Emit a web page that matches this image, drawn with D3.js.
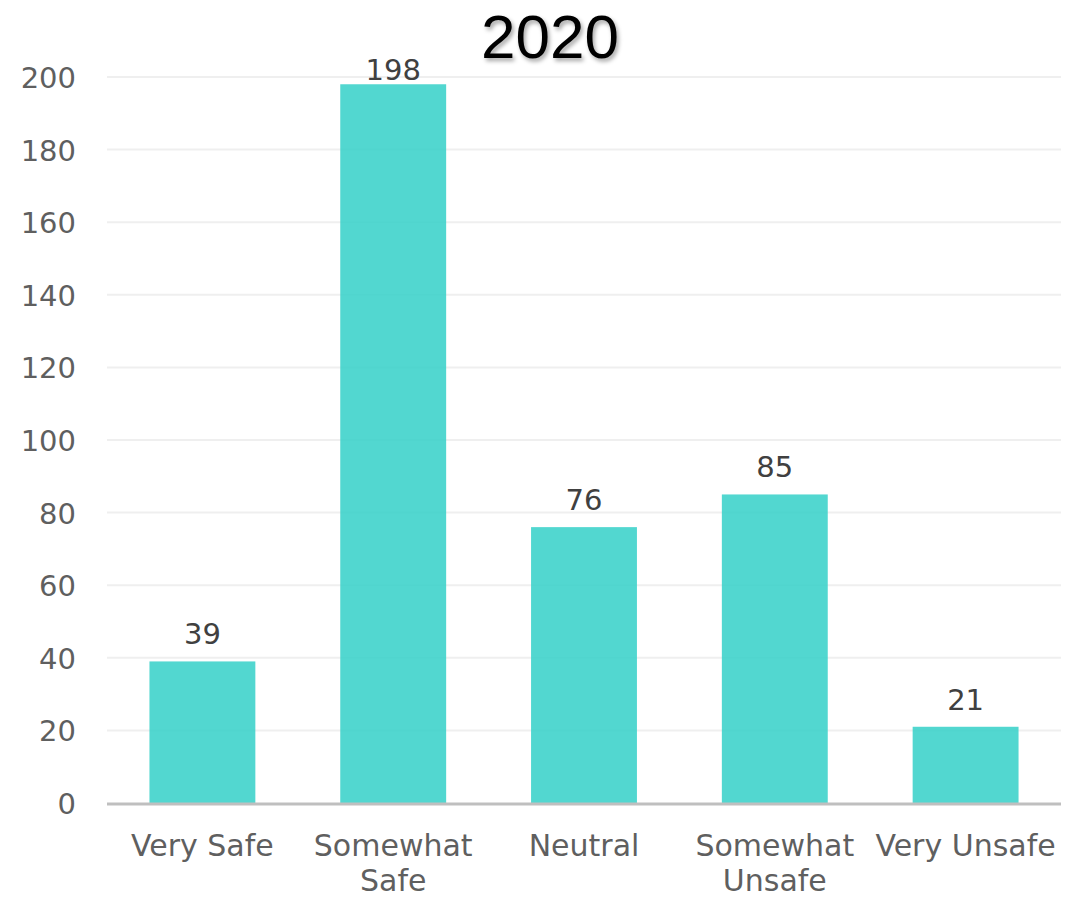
<!DOCTYPE html>
<html><head><meta charset="utf-8">
<script src="https://cdn.jsdelivr.net/npm/d3@7"></script>
<style>body{margin:0;background:#fff}svg{display:block}</style>
</head><body>
<svg id="c" width="1084" height="900"></svg>
<script>
const title = "2020";
const categories = ["Very Safe","Somewhat Safe","Neutral","Somewhat Unsafe","Very Unsafe"];
const categoryLines = [["Very Safe"],["Somewhat","Safe"],["Neutral"],["Somewhat","Unsafe"],["Very Unsafe"]];
const values = [39,198,76,85,21];
const yTicks = [0,20,40,60,80,100,120,140,160,180,200];

const svg = d3.select("#c");
const m = {left:107, right:1061, top:77, bottom:803};
const x = d3.scaleBand().domain(categories).range([m.left, m.right]).paddingInner(0.445).paddingOuter(0.2225);
const y = d3.scaleLinear().domain([0,200]).range([m.bottom, m.top]);
const font = "'DejaVu Sans', sans-serif";

const defs = svg.append("defs");
const f = defs.append("filter").attr("id","sh").attr("x","-20%").attr("y","-20%").attr("width","140%").attr("height","140%");
f.append("feDropShadow").attr("dx",2).attr("dy",3).attr("stdDeviation",2).attr("flood-color","#000").attr("flood-opacity",0.35);

// gridlines
svg.append("g").selectAll("line").data(yTicks.filter(d=>d>0)).join("line")
  .attr("x1",m.left).attr("x2",m.right).attr("y1",d=>y(d)).attr("y2",d=>y(d))
  .attr("stroke","#efefef").attr("stroke-width",2);

// y axis labels
const yAxis = d3.axisLeft(y).tickValues(yTicks).tickSize(0).tickPadding(0);
const yg = svg.append("g").attr("transform",`translate(76,0)`).call(yAxis);
yg.select(".domain").remove();
yg.selectAll("text").attr("font-family",font).attr("font-size",29).attr("fill","#5f5f5f").attr("dy","0.36em");

// bars
svg.append("g").selectAll("rect").data(values).join("rect")
  .attr("x",(d,i)=>x(categories[i])).attr("width",x.bandwidth())
  .attr("y",d=>y(d)).attr("height",d=>y(0)-y(d))
  .attr("fill","#3ad2ca").attr("fill-opacity",0.88);

// baseline
svg.append("line").attr("x1",m.left).attr("x2",m.right).attr("y1",y(0)+1).attr("y2",y(0)+1)
  .attr("stroke","#bfbfbf").attr("stroke-width",3);

// value labels (kept inside the plot area like the original)
svg.append("g").selectAll("text").data(values).join("text")
  .attr("x",(d,i)=>x(categories[i])+x.bandwidth()/2).attr("y",d=>Math.max(y(d)-17, m.top+3))
  .attr("text-anchor","middle").attr("font-family",font).attr("font-size",29).attr("fill","#404040")
  .text(d=>d);

// x labels
const xl = svg.append("g").selectAll("text").data(categories).join("text")
  .attr("x",d=>x(d)+x.bandwidth()/2).attr("y",856)
  .attr("text-anchor","middle").attr("font-family",font).attr("font-size",30).attr("fill","#5f5f5f");
xl.each(function(d,i){
  const t = d3.select(this);
  categoryLines[i].forEach((ln,j)=>{
    t.append("tspan").attr("x",x(d)+x.bandwidth()/2).attr("dy",j===0?0:35).text(ln);
  });
});

// title
svg.append("text").attr("x",550).attr("y",58).attr("text-anchor","middle")
  .attr("font-family","'Liberation Sans', Arial, sans-serif").attr("font-size",62).attr("fill","#000")
  .attr("filter","url(#sh)").text(title);
</script>
</body></html>
